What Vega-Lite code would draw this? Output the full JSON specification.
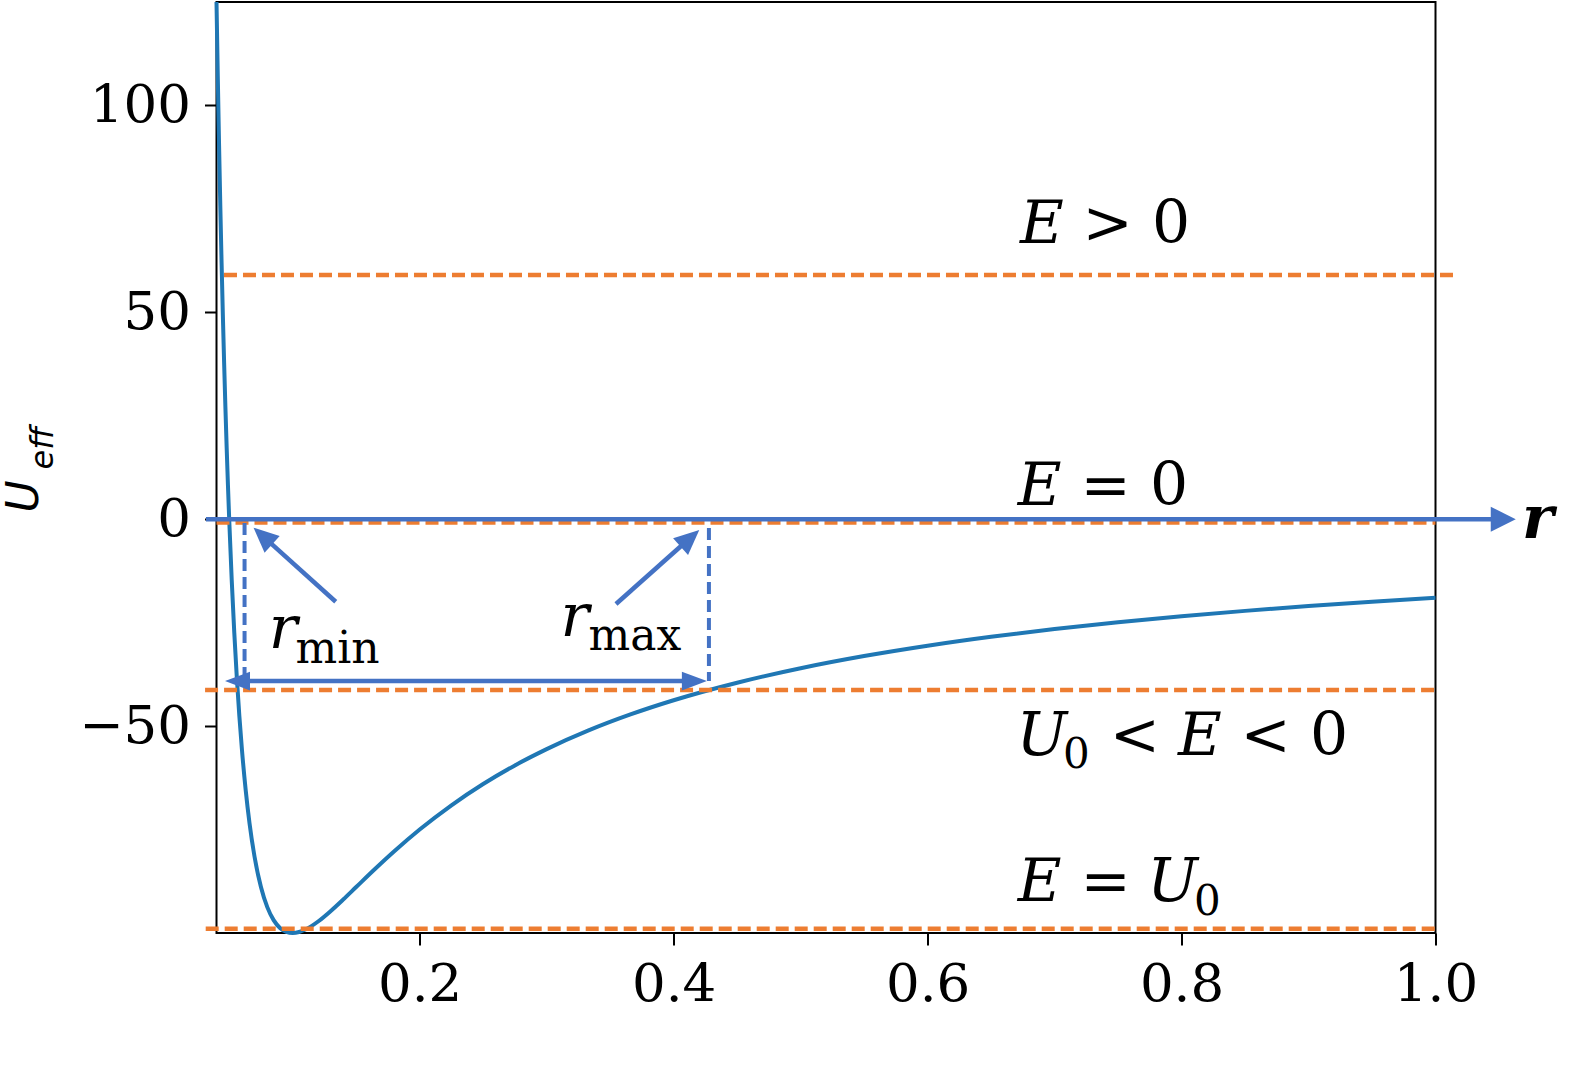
{
  "$schema": "https://vega.github.io/schema/vega-lite/v6.json",
  "width": 1219,
  "height": 931,
  "autosize": {"type": "none"},
  "padding": {"left": 216.5, "top": 2, "right": 141.5, "bottom": 146},
  "background": "white",
  "config": {
    "view": {"stroke": "black", "strokeWidth": 2},
    "axis": {
      "domain": false,
      "grid": false,
      "ticks": true,
      "tickColor": "black",
      "tickWidth": 2,
      "tickSize": 12,
      "labelFont": "DejaVu Serif",
      "labelFontSize": 53,
      "labelColor": "black",
      "labelOverlap": false,
      "labelFlush": false,
      "title": null
    }
  },
  "datasets": {
    "curve": [
      {"r": 0.040, "U": 125.0},
      {"r": 0.041, "U": 107.08},
      {"r": 0.042, "U": 90.70},
      {"r": 0.043, "U": 75.71},
      {"r": 0.044, "U": 61.98},
      {"r": 0.045, "U": 49.38},
      {"r": 0.046, "U": 37.81},
      {"r": 0.047, "U": 27.16},
      {"r": 0.048, "U": 17.36},
      {"r": 0.049, "U": 8.33},
      {"r": 0.050, "U": 0.0},
      {"r": 0.052, "U": -14.79},
      {"r": 0.054, "U": -27.43},
      {"r": 0.056, "U": -38.27},
      {"r": 0.058, "U": -47.56},
      {"r": 0.060, "U": -55.56},
      {"r": 0.063, "U": -65.51},
      {"r": 0.066, "U": -73.46},
      {"r": 0.070, "U": -81.63},
      {"r": 0.075, "U": -88.89},
      {"r": 0.080, "U": -93.75},
      {"r": 0.085, "U": -96.89},
      {"r": 0.090, "U": -98.77},
      {"r": 0.095, "U": -99.72},
      {"r": 0.100, "U": -100.0},
      {"r": 0.105, "U": -99.77},
      {"r": 0.110, "U": -99.17},
      {"r": 0.120, "U": -97.22},
      {"r": 0.130, "U": -94.67},
      {"r": 0.140, "U": -91.84},
      {"r": 0.150, "U": -88.89},
      {"r": 0.165, "U": -84.48},
      {"r": 0.180, "U": -80.25},
      {"r": 0.200, "U": -75.0},
      {"r": 0.225, "U": -69.14},
      {"r": 0.250, "U": -64.0},
      {"r": 0.275, "U": -59.50},
      {"r": 0.300, "U": -55.56},
      {"r": 0.333, "U": -51.04},
      {"r": 0.366, "U": -47.18},
      {"r": 0.400, "U": -43.75},
      {"r": 0.450, "U": -39.51},
      {"r": 0.500, "U": -36.0},
      {"r": 0.550, "U": -33.06},
      {"r": 0.600, "U": -30.56},
      {"r": 0.650, "U": -28.40},
      {"r": 0.700, "U": -26.53},
      {"r": 0.750, "U": -24.89},
      {"r": 0.800, "U": -23.44},
      {"r": 0.850, "U": -22.15},
      {"r": 0.900, "U": -20.99},
      {"r": 0.950, "U": -19.94},
      {"r": 1.000, "U": -19.0}
    ],
    "levels": [
      {"level": "E > 0", "E": 59.0, "r_start": 0.0459, "r_end": 1.0176},
      {"level": "E = 0", "E": -0.8, "r_start": 0.040, "r_end": 1.0},
      {"level": "U0 < E < 0", "E": -41.3, "r_start": 0.031, "r_end": 1.002},
      {"level": "E = U0", "E": -99.0, "r_start": 0.0315, "r_end": 1.001}
    ],
    "drops": [
      {"point": "r_min", "r": 0.0621, "U_top": -0.9, "U_bottom": -39.1},
      {"point": "r_max", "r": 0.4278, "U_top": -2.1, "U_bottom": -39.1}
    ],
    "arrows": [
      {"arrow": "r axis", "r": 0.0317, "U": 0.0, "r2": 1.0443, "U2": 0.0},
      {"arrow": "span", "r": 0.0625, "U": -39.1, "r2": 0.4105, "U2": -39.1},
      {"arrow": "r_min pointer", "r": 0.1339, "U": -19.94, "r2": 0.0809, "U2": -5.29},
      {"arrow": "r_max pointer", "r": 0.3546, "U": -20.5, "r2": 0.4083, "U2": -5.82}
    ]
  },
  "layer": [
    {
      "data": {"name": "curve"},
      "mark": {"type": "line", "color": "#1f77b4", "strokeWidth": 4, "interpolate": "monotone"},
      "encoding": {
        "x": {
          "field": "r", "type": "quantitative",
          "scale": {"domain": [0.04, 1.0], "nice": false, "zero": false},
          "axis": {"values": [0.2, 0.4, 0.6, 0.8, 1.0], "format": ".1f", "labelPadding": 13}
        },
        "y": {
          "field": "U", "type": "quantitative",
          "scale": {"domain": [-100, 125], "nice": false, "zero": false},
          "axis": {"values": [-50, 0, 50, 100], "format": "d", "labelPadding": 14}
        }
      }
    },
    {
      "data": {"name": "levels"},
      "mark": {"type": "rule", "color": "#ED7D31", "strokeWidth": 4.5, "strokeDash": [13, 6]},
      "encoding": {
        "x": {"field": "r_start", "type": "quantitative"},
        "x2": {"field": "r_end"},
        "y": {"field": "E", "type": "quantitative"}
      }
    },
    {
      "data": {"name": "drops"},
      "mark": {"type": "rule", "color": "#4472C4", "strokeWidth": 4, "strokeDash": [12, 6]},
      "encoding": {
        "x": {"field": "r", "type": "quantitative"},
        "y": {"field": "U_top", "type": "quantitative"},
        "y2": {"field": "U_bottom"}
      }
    },
    {
      "data": {"name": "arrows"},
      "mark": {"type": "rule", "color": "#4472C4", "strokeWidth": 4.5},
      "encoding": {
        "x": {"field": "r", "type": "quantitative"},
        "y": {"field": "U", "type": "quantitative"},
        "x2": {"field": "r2"},
        "y2": {"field": "U2"}
      }
    },
    {
      "data": {"values": [{}]},
      "mark": {"type": "point", "shape": "M0,0L-2,-1L-2,1Z", "size": 625, "angle": 0, "filled": true, "color": "#4472C4", "opacity": 1, "strokeWidth": 0},
      "encoding": {"x": {"datum": 1.0632}, "y": {"datum": 0.0}}
    },
    {
      "data": {"values": [{}]},
      "mark": {"type": "point", "shape": "M0,0L-2,-0.75L-2,0.75Z", "size": 625, "angle": 180, "filled": true, "color": "#4472C4", "opacity": 1, "strokeWidth": 0},
      "encoding": {"x": {"datum": 0.0467}, "y": {"datum": -39.1}}
    },
    {
      "data": {"values": [{}]},
      "mark": {"type": "point", "shape": "M0,0L-2,-0.75L-2,0.75Z", "size": 625, "angle": 0, "filled": true, "color": "#4472C4", "opacity": 1, "strokeWidth": 0},
      "encoding": {"x": {"datum": 0.4262}, "y": {"datum": -39.1}}
    },
    {
      "data": {"values": [{}]},
      "mark": {"type": "point", "shape": "M0,0L-2,-0.9L-2,0.9Z", "size": 625, "angle": 222.1, "filled": true, "color": "#4472C4", "opacity": 1, "strokeWidth": 0},
      "encoding": {"x": {"datum": 0.0692}, "y": {"datum": -2.05}}
    },
    {
      "data": {"values": [{}]},
      "mark": {"type": "point", "shape": "M0,0L-2,-0.9L-2,0.9Z", "size": 625, "angle": 318.4, "filled": true, "color": "#4472C4", "opacity": 1, "strokeWidth": 0},
      "encoding": {"x": {"datum": 0.4202}, "y": {"datum": -2.6}}
    },
    {
      "data": {"values": [{}]},
      "mark": {"type": "text", "text": "E", "font": "DejaVu Serif", "fontStyle": "italic", "fontSize": 60, "align": "center", "baseline": "alphabetic", "color": "black"},
      "encoding": {"x": {"datum": 0.6900}, "y": {"datum": 66.75}}
    },
    {
      "data": {"values": [{}]},
      "mark": {"type": "text", "text": "> 0", "font": "DejaVu Serif", "fontSize": 60, "align": "center", "baseline": "alphabetic", "color": "black"},
      "encoding": {"x": {"datum": 0.7644}, "y": {"datum": 66.75}}
    },
    {
      "data": {"values": [{}]},
      "mark": {"type": "text", "text": "E", "font": "DejaVu Serif", "fontStyle": "italic", "fontSize": 60, "align": "center", "baseline": "alphabetic", "color": "black"},
      "encoding": {"x": {"datum": 0.6883}, "y": {"datum": 3.43}}
    },
    {
      "data": {"values": [{}]},
      "mark": {"type": "text", "text": "= 0", "font": "DejaVu Serif", "fontSize": 60, "align": "center", "baseline": "alphabetic", "color": "black"},
      "encoding": {"x": {"datum": 0.7628}, "y": {"datum": 3.43}}
    },
    {
      "data": {"values": [{}]},
      "mark": {"type": "text", "text": "U", "font": "DejaVu Serif", "fontStyle": "italic", "fontSize": 60, "align": "center", "baseline": "alphabetic", "color": "black"},
      "encoding": {"x": {"datum": 0.6900}, "y": {"datum": -56.98}}
    },
    {
      "data": {"values": [{}]},
      "mark": {"type": "text", "text": "0", "font": "DejaVu Serif", "fontSize": 42, "align": "center", "baseline": "alphabetic", "color": "black"},
      "encoding": {"x": {"datum": 0.7172}, "y": {"datum": -60.12}}
    },
    {
      "data": {"values": [{}]},
      "mark": {"type": "text", "text": "<", "font": "DejaVu Serif", "fontSize": 60, "align": "center", "baseline": "alphabetic", "color": "black"},
      "encoding": {"x": {"datum": 0.7632}, "y": {"datum": -56.98}}
    },
    {
      "data": {"values": [{}]},
      "mark": {"type": "text", "text": "E", "font": "DejaVu Serif", "fontStyle": "italic", "fontSize": 60, "align": "center", "baseline": "alphabetic", "color": "black"},
      "encoding": {"x": {"datum": 0.8144}, "y": {"datum": -56.98}}
    },
    {
      "data": {"values": [{}]},
      "mark": {"type": "text", "text": "< 0", "font": "DejaVu Serif", "fontSize": 60, "align": "center", "baseline": "alphabetic", "color": "black"},
      "encoding": {"x": {"datum": 0.8888}, "y": {"datum": -56.98}}
    },
    {
      "data": {"values": [{}]},
      "mark": {"type": "text", "text": "E", "font": "DejaVu Serif", "fontStyle": "italic", "fontSize": 60, "align": "center", "baseline": "alphabetic", "color": "black"},
      "encoding": {"x": {"datum": 0.6883}, "y": {"datum": -92.29}}
    },
    {
      "data": {"values": [{}]},
      "mark": {"type": "text", "text": "=", "font": "DejaVu Serif", "fontSize": 60, "align": "center", "baseline": "alphabetic", "color": "black"},
      "encoding": {"x": {"datum": 0.7403}, "y": {"datum": -92.29}}
    },
    {
      "data": {"values": [{}]},
      "mark": {"type": "text", "text": "U", "font": "DejaVu Serif", "fontStyle": "italic", "fontSize": 60, "align": "center", "baseline": "alphabetic", "color": "black"},
      "encoding": {"x": {"datum": 0.7930}, "y": {"datum": -92.29}}
    },
    {
      "data": {"values": [{}]},
      "mark": {"type": "text", "text": "0", "font": "DejaVu Serif", "fontSize": 42, "align": "center", "baseline": "alphabetic", "color": "black"},
      "encoding": {"x": {"datum": 0.8203}, "y": {"datum": -95.67}}
    },
    {
      "data": {"values": [{}]},
      "mark": {"type": "text", "text": "r", "font": "DejaVu Serif", "fontStyle": "italic", "fontSize": 60, "align": "center", "baseline": "alphabetic", "color": "black"},
      "encoding": {"x": {"datum": 0.0924}, "y": {"datum": -31.13}}
    },
    {
      "data": {"values": [{}]},
      "mark": {"type": "text", "text": "min", "font": "DejaVu Serif", "fontSize": 44, "align": "center", "baseline": "alphabetic", "color": "black"},
      "encoding": {"x": {"datum": 0.1353}, "y": {"datum": -34.75}}
    },
    {
      "data": {"values": [{}]},
      "mark": {"type": "text", "text": "r", "font": "DejaVu Serif", "fontStyle": "italic", "fontSize": 60, "align": "center", "baseline": "alphabetic", "color": "black"},
      "encoding": {"x": {"datum": 0.3223}, "y": {"datum": -28.23}}
    },
    {
      "data": {"values": [{}]},
      "mark": {"type": "text", "text": "max", "font": "DejaVu Serif", "fontSize": 44, "align": "center", "baseline": "alphabetic", "color": "black"},
      "encoding": {"x": {"datum": 0.3695}, "y": {"datum": -31.61}}
    },
    {
      "data": {"values": [{}]},
      "mark": {"type": "text", "text": "r", "font": "DejaVu Serif", "fontStyle": "italic", "fontWeight": "bold", "fontSize": 60, "align": "center", "baseline": "alphabetic", "color": "black"},
      "encoding": {"x": {"datum": 1.0805}, "y": {"datum": -4.54}}
    },
    {
      "data": {"values": [{}]},
      "mark": {"type": "text", "text": "U", "font": "DejaVu Sans", "fontStyle": "italic", "fontSize": 44, "angle": 270, "align": "center", "baseline": "alphabetic", "color": "black"},
      "encoding": {"x": {"datum": -0.1003}, "y": {"datum": 5.49}}
    },
    {
      "data": {"values": [{}]},
      "mark": {"type": "text", "text": "eff", "font": "DejaVu Sans", "fontStyle": "italic", "fontSize": 32, "angle": 270, "align": "center", "baseline": "alphabetic", "color": "black"},
      "encoding": {"x": {"datum": -0.0887}, "y": {"datum": 17.2}}
    }
  ]
}
